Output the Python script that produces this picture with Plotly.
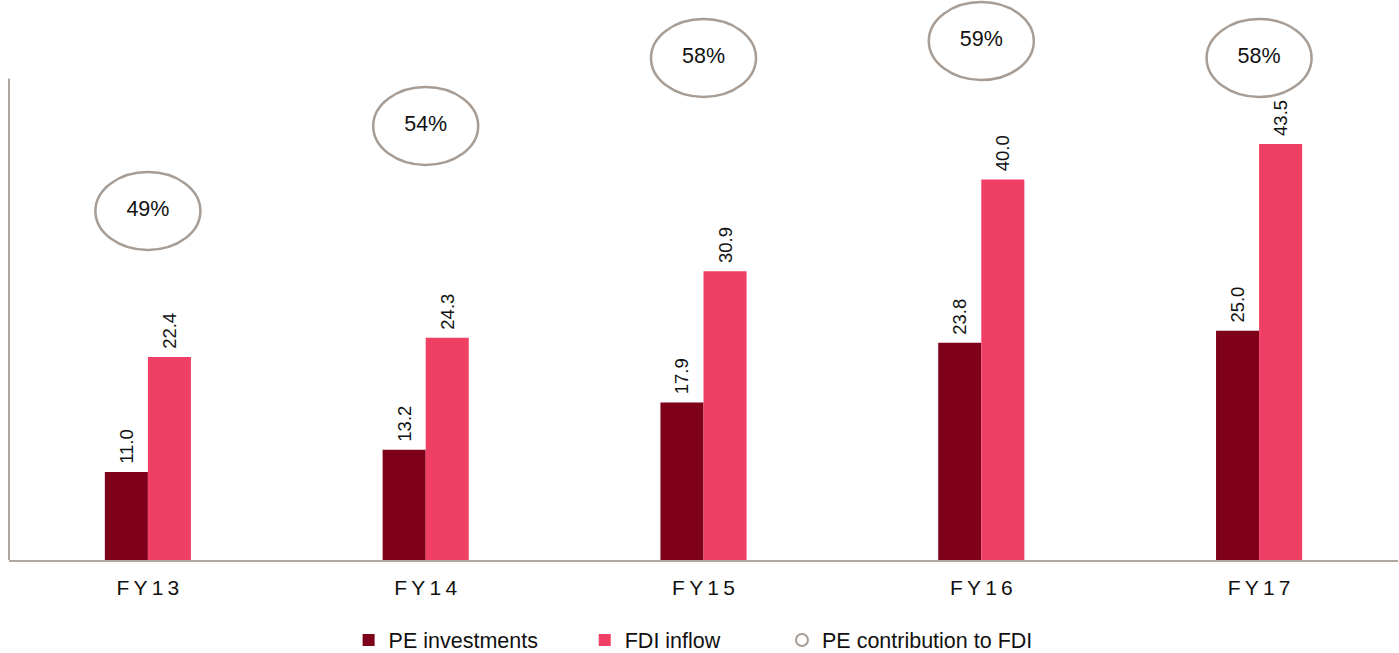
import plotly.graph_objects as go

categories = ["FY13", "FY14", "FY15", "FY16", "FY17"]
pe_investments = [11.0, 13.2, 17.9, 23.8, 25.0]
fdi_inflow = [22.4, 24.3, 30.9, 40.0, 43.5]
pe_share = [49, 54, 58, 59, 58]

PE_COLOR = "#7f0019"
FDI_COLOR = "#f03f64"
RING_COLOR = "#a89d94"
AXIS_COLOR = "#b0a7a0"
FONT = "Liberation Sans, Arial, sans-serif"

tick_text = ["\u2009".join(c) for c in categories]


def bar_label(v):
    return "\u00a0" + f"{v:.1f}"


fig = go.Figure()
fig.add_trace(go.Bar(
    x=categories, y=pe_investments, name="PE investments", legend="legend",
    marker=dict(color=PE_COLOR, line=dict(width=0)),
    text=[bar_label(v) for v in pe_investments], textposition="outside",
    textangle=-90, textfont=dict(size=18.5, color="#111111"), cliponaxis=False,
))
fig.add_trace(go.Bar(
    x=categories, y=fdi_inflow, name="FDI inflow", legend="legend2",
    marker=dict(color=FDI_COLOR, line=dict(width=0)),
    text=[bar_label(v) for v in fdi_inflow], textposition="outside",
    textangle=-90, textfont=dict(size=18.5, color="#111111"), cliponaxis=False,
))
fig.add_trace(go.Scatter(
    x=categories, y=pe_share, yaxis="y2", mode="text",
    text=[f"{v}%" for v in pe_share], textfont=dict(size=21.5, color="#111111"),
    showlegend=False, cliponaxis=False, hoverinfo="skip",
))
fig.add_trace(go.Scatter(
    x=[None], y=[None], yaxis="y2", mode="markers", name="PE contribution to FDI",
    legend="legend3",
    marker=dict(symbol="circle-open", size=17, color=RING_COLOR,
                line=dict(width=2.5, color=RING_COLOR)),
))

RING_HALF_W = 0.189   # in category units
RING_HALF_H = 2.294   # in secondary-axis units
shapes = []
for i, v in enumerate(pe_share):
    shapes.append(dict(type="circle", xref="x", yref="y2",
                       x0=i - RING_HALF_W, x1=i + RING_HALF_W,
                       y0=v - RING_HALF_H, y1=v + RING_HALF_H,
                       line=dict(color=RING_COLOR, width=2.5), layer="above"))
Y_MIN = 2.28
shapes.append(dict(type="line", xref="paper", yref="y", x0=0, x1=0, y0=Y_MIN, y1=50,
                   line=dict(color=AXIS_COLOR, width=2)))

leg_common = dict(orientation="h", y=-0.1429, yanchor="middle", xanchor="left",
                  font=dict(size=21.5, color="#111111"), itemsizing="constant",
                  bgcolor="rgba(0,0,0,0)", borderwidth=0)

fig.update_layout(
    width=1399, height=653,
    margin=dict(l=9, r=1, t=0, b=93, autoexpand=False),
    paper_bgcolor="white", plot_bgcolor="white",
    font=dict(family=FONT, size=20, color="#111111"),
    barmode="group", bargap=0.69, bargroupgap=0,
    showlegend=True,
    legend=dict(x=0.2445, **leg_common),
    legend2=dict(x=0.4145, **leg_common),
    legend3=dict(x=0.5565, **leg_common),
    xaxis=dict(type="category", range=[-0.5, 4.5], showline=True, linecolor=AXIS_COLOR,
               linewidth=2, ticks="", showgrid=False, zeroline=False,
               tickmode="array", tickvals=categories, ticktext=tick_text,
               tickfont=dict(size=21, color="#111111"), ticklabelstandoff=8,
               automargin=False),
    yaxis=dict(range=[Y_MIN, 57.78], showline=False, showgrid=False, zeroline=False,
               showticklabels=False, ticks="", automargin=False),
    yaxis2=dict(range=[28.47, 61.41], overlaying="y", side="right", visible=False,
                showgrid=False, zeroline=False),
    shapes=shapes,
)

fig.write_html("out.html", config={"displayModeBar": False},
               post_script="document.body.style.margin='0';document.body.style.overflow='hidden';")
